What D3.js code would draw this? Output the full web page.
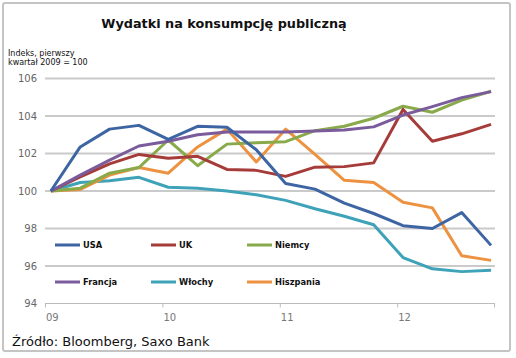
<!DOCTYPE html>
<html><head><meta charset="utf-8">
<script src="https://cdn.jsdelivr.net/npm/d3@7"></script>
<style>html,body{margin:0;padding:0;background:#fff;}svg{display:block;}</style>
</head><body>
<svg id="c" width="516" height="358"></svg>
<script>
const quarters = ["09Q1","09Q2","09Q3","09Q4","10Q1","10Q2","10Q3","10Q4","11Q1","11Q2","11Q3","11Q4","12Q1","12Q2","12Q3","12Q4"];
const yearLabels = ["09","10","11","12"];
const yTicks = [94,96,98,100,102,104,106];
const usa      = [100,102.35,103.3,103.5,102.75,103.45,103.4,102.2,100.4,100.1,99.35,98.8,98.15,98.0,98.85,97.1];
const uk       = [100,100.75,101.45,101.95,101.75,101.85,101.15,101.1,100.78,101.27,101.3,101.5,104.35,102.65,103.05,103.55];
const niemcy   = [100,100.15,100.95,101.25,102.72,101.35,102.5,102.57,102.63,103.22,103.45,103.88,104.52,104.2,104.85,105.32];
const francja  = [100,100.85,101.65,102.4,102.65,103.0,103.15,103.15,103.15,103.2,103.25,103.42,104.05,104.5,104.98,105.3];
const wlochy   = [100,100.45,100.55,100.73,100.2,100.15,100.0,99.8,99.5,99.05,98.65,98.2,96.45,95.85,95.7,95.77];
const hiszpania= [100,100.08,100.85,101.25,100.95,102.35,103.3,101.55,103.3,101.95,100.57,100.45,99.4,99.1,96.55,96.3];
const seriesNames = ["USA","UK","Niemcy","Francja","Włochy","Hiszpania"];
const seriesData = [usa, uk, niemcy, francja, wlochy, hiszpania];
const colors = ["#3d65a3","#a53c3a","#89aa4a","#7a5b9c","#3ea2b8","#ec9240"];

const svg = d3.select("#c");
// frame
svg.append("rect").attr("x",3).attr("y",3).attr("width",507).attr("height",348)
  .attr("rx",2).attr("fill","#fff").attr("stroke","#c4c4c4").attr("stroke-width",2);

const x = d3.scaleLinear().domain([-0.2, 15.1]).range([45, 494]);
const y = d3.scaleLinear().domain([94, 106]).range([303.5, 78.5]);

// title
svg.append("text").attr("x",224).attr("y",28).attr("text-anchor","middle")
  .attr("font-family","DejaVu Sans").attr("font-weight","bold").attr("font-size",12.8)
  .attr("fill","#111").text("Wydatki na konsumpcję publiczną");

// y axis label
const yl = svg.append("text").attr("font-family","DejaVu Sans").attr("font-size",8).attr("fill","#111");
yl.append("tspan").attr("x",8).attr("y",56).text("Indeks, pierwszy");
yl.append("tspan").attr("x",8).attr("y",65).text("kwartał 2009 = 100");

// gridlines
svg.append("g").selectAll("line").data(yTicks.filter(d=>d>94)).join("line")
  .attr("x1",45).attr("x2",495).attr("y1",d=>y(d)).attr("y2",d=>y(d))
  .attr("stroke","#cacaca").attr("stroke-width",2);

// y axis labels
const yAxis = svg.append("g").attr("transform","translate(37,0)")
  .call(d3.axisLeft(y).tickValues(yTicks).tickSize(0).tickPadding(0).tickFormat(d3.format("d")));
yAxis.select(".domain").remove();
yAxis.selectAll("text").attr("font-family","DejaVu Sans").attr("font-size",10).attr("fill","#666");

// x axis
const tickPos = yearLabels.map((d,i)=>i*4-0.2);
svg.append("line").attr("x1",45).attr("x2",495).attr("y1",y(94)).attr("y2",y(94))
  .attr("stroke","#bcbcbc").attr("stroke-width",1);
const xAxis = svg.append("g").attr("transform",`translate(0,${y(94)})`)
  .call(d3.axisBottom(x).tickValues(tickPos.concat([15.1])).tickSize(4).tickFormat(""));
xAxis.select(".domain").remove();
xAxis.selectAll("line").attr("stroke","#bcbcbc");
svg.append("g").selectAll("text").data(yearLabels).join("text")
  .attr("x",(d,i)=>x(tickPos[i])+1).attr("y",321)
  .attr("font-family","DejaVu Sans").attr("font-size",10).attr("fill","#777").text(d=>d);

// lines
const line = d3.line().x((d,i)=>x(i)).y(d=>y(d));
const order = [4,5,2,1,3,0];
svg.append("g").selectAll("path").data(order).join("path")
  .attr("d",k=>line(seriesData[k])).attr("fill","none")
  .attr("stroke",k=>colors[k]).attr("stroke-width",3).attr("stroke-linejoin","round");

// legend
const legX = [55,151,247];
const legY = [245,282];
const leg = svg.append("g");
seriesNames.forEach((n,i)=>{
  const lx = legX[i%3], ly = legY[Math.floor(i/3)];
  leg.append("line").attr("x1",lx).attr("x2",lx+25).attr("y1",ly).attr("y2",ly)
    .attr("stroke",colors[i]).attr("stroke-width",3);
  leg.append("text").attr("x",lx+28).attr("y",ly+3)
    .attr("font-family","DejaVu Sans").attr("font-weight","bold").attr("font-size",8.3)
    .attr("fill","#111").text(n);
});

// source
svg.append("text").attr("x",12).attr("y",346).attr("font-family","DejaVu Sans")
  .attr("font-size",13).attr("fill","#111").text("Źródło: Bloomberg, Saxo Bank");
</script>
</body></html>
